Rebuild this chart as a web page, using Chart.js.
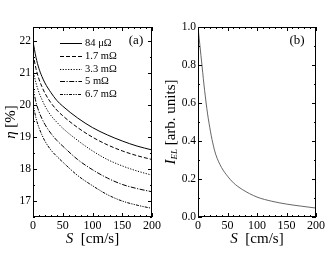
<!DOCTYPE html>
<html>
<head>
<meta charset="utf-8">
<script src="https://cdn.jsdelivr.net/npm/chart.js@4.4.0/dist/chart.umd.min.js"></script>
<style>
    body { margin: 0; background: #fff; }
    .wrap { position: absolute; top: 0; height: 255px; }
</style>
</head>
<body>
<div class="wrap" style="left:0;width:165px"><canvas id="chartA"></canvas></div>
<div class="wrap" style="left:158px;width:172px"><canvas id="chartB"></canvas></div>
<script>
// Data
var sVals = [0, 5, 10, 15, 20, 30, 40, 50, 75, 100, 125, 150, 175, 200];
var eta84u = [22.0, 21.5, 21.15, 20.9, 20.7, 20.4, 20.15, 19.97, 19.6, 19.3, 19.07, 18.88, 18.72, 18.6];
var eta1p7 = [21.6, 21.15, 20.82, 20.58, 20.38, 20.08, 19.85, 19.67, 19.3, 19.0, 18.76, 18.57, 18.42, 18.3];
var eta3p3 = [21.1, 20.7, 20.4, 20.18, 19.98, 19.68, 19.47, 19.28, 18.9, 18.57, 18.3, 18.1, 17.94, 17.81];
var eta5 = [20.55, 20.1, 19.8, 19.58, 19.4, 19.12, 18.9, 18.72, 18.3, 17.98, 17.72, 17.52, 17.39, 17.29];
var eta6p7 = [20.05, 19.6, 19.3, 19.07, 18.88, 18.6, 18.4, 18.22, 17.8, 17.48, 17.2, 17.0, 16.87, 16.77];
var seriesNames = ["84 \u03bc\u03a9", "1.7 m\u03a9", "3.3 m\u03a9", "5 m\u03a9", "6.7 m\u03a9"];

var sValsB = [0, 1, 2, 3, 5, 8, 10, 15, 20, 25, 30, 40, 50, 60, 75, 100, 125, 150, 175, 200];
var iEL = [1.0, 0.97, 0.94, 0.91, 0.85, 0.76, 0.7, 0.57, 0.47, 0.39, 0.33, 0.26, 0.215, 0.18, 0.145, 0.105, 0.083, 0.068, 0.057, 0.047];

var xTicks = [0, 50, 100, 150, 200];
var yTicksA = [17, 18, 19, 20, 21, 22];
var yTicksB = [0, 0.2, 0.4, 0.6, 0.8, 1.0];

var serif = "'Liberation Serif', 'DejaVu Serif', serif";

function pairs(xs, ys) {
    return xs.map(function(x, i) { return { x: x, y: ys[i] }; });
}

// Frame, inward ticks, titles and legend
function makeDeco(cfg) {
    return {
        id: "deco",
        afterDraw: function(chart) {
            var c = chart.ctx, a = chart.chartArea;
            var sx = chart.scales.x, sy = chart.scales.y;
            c.save();
            c.strokeStyle = "#000";
            c.lineWidth = 1;
            c.strokeRect(Math.round(a.left) + 0.5, Math.round(a.top) + 0.5,
                Math.round(a.right - a.left) - 1, Math.round(a.bottom - a.top) - 1);
            c.beginPath();
            // x ticks
            for (var v = sx.min; v <= sx.max + 1e-9; v += cfg.xMinor) {
                var px = Math.round(sx.getPixelForValue(v)) + 0.5;
                var len = Math.abs(v % cfg.xMajor) < 1e-6 ? 4 : 2;
                c.moveTo(px, a.bottom); c.lineTo(px, a.bottom - len);
                c.moveTo(px, a.top); c.lineTo(px, a.top + len);
            }
            // y ticks
            var start = Math.ceil(sy.min / cfg.yMinor - 1e-6) * cfg.yMinor;
            for (var w = start; w <= sy.max + 1e-9; w += cfg.yMinor) {
                var py = Math.round(sy.getPixelForValue(w)) + 0.5;
                var r = w / cfg.yMajor;
                var l2 = Math.abs(r - Math.round(r)) < 1e-6 ? 4 : 2;
                c.moveTo(a.left, py); c.lineTo(a.left + l2, py);
                c.moveTo(a.right, py); c.lineTo(a.right - l2, py);
            }
            c.stroke();

            c.fillStyle = "#000";
            c.textBaseline = "middle";
            // x title
            drawSpans(c, [["italic", 15, "S"], ["", 15, "  [cm/s]"]], (a.left + a.right) / 2, 239);
            // y title
            c.save();
            c.translate(cfg.yTitleX, (a.top + a.bottom) / 2);
            c.rotate(-Math.PI / 2);
            drawSpans(c, cfg.yTitle, 0, 0);
            c.restore();
            // panel label
            c.font = "13px " + serif;
            c.textAlign = "center";
            c.fillText(cfg.panel, cfg.panelX, 41);

            // legend
            if (cfg.legend) {
                chart.data.datasets.forEach(function(ds, i) {
                    var y = Math.round(43 + i * 12.8) + 0.5;
                    c.beginPath();
                    c.setLineDash(ds.borderDash || []);
                    c.lineWidth = ds.borderWidth;
                    c.moveTo(60, y); c.lineTo(82, y);
                    c.stroke();
                    c.setLineDash([]);
                    c.font = "10.5px " + serif;
                    c.textAlign = "left";
                    c.fillText(ds.label, 85, y);
                });
            }
            c.restore();
        }
    };
}

function drawSpans(c, spans, cx, cy) {
    var total = 0;
    spans.forEach(function(s) {
        c.font = s[0] + " " + s[1] + "px " + serif;
        total += c.measureText(s[2]).width;
    });
    var x = cx - total / 2;
    c.textAlign = "left";
    spans.forEach(function(s) {
        c.font = s[0] + " " + s[1] + "px " + serif;
        c.fillText(s[2], x, cy + (s[3] || 0));
        x += c.measureText(s[2]).width;
    });
}

function baseOptions(yMin, yMax, yTicks, yFmt, padRight, yWidth) {
    return {
        responsive: true,
        maintainAspectRatio: false,
        animation: false,
        layout: { padding: { left: 0, right: padRight, top: 27, bottom: 0 } },
        plugins: { legend: { display: false }, tooltip: { enabled: false } },
        elements: { point: { radius: 0 } },
        scales: {
            x: {
                type: "linear", min: 0, max: 200,
                grid: { display: false, drawTicks: false },
                border: { display: false },
                afterBuildTicks: function(s) { s.ticks = xTicks.map(function(v) { return { value: v }; }); },
                afterFit: function(s) { s.height = 38; },
                ticks: { padding: 2, color: "#000", maxRotation: 0, font: { family: serif, size: 12 } }
            },
            y: {
                type: "linear", min: yMin, max: yMax,
                grid: { display: false, drawTicks: false },
                border: { display: false },
                afterBuildTicks: function(s) { s.ticks = yTicks.map(function(v) { return { value: v }; }); },
                afterFit: function(s) { s.width = yWidth; },
                ticks: { padding: 2, color: "#000", font: { family: serif, size: 11.5 }, callback: yFmt }
            }
        }
    };
}

var dashes = [[], [4, 2], [1.2, 1.5], [5, 1.5, 1.2, 1.5], [3, 1.2, 1.2, 1.2, 1.2, 1.2]];
var etaSeries = [eta84u, eta1p7, eta3p3, eta5, eta6p7];

new Chart(document.getElementById("chartA"), {
    type: "line",
    data: {
        datasets: etaSeries.map(function(ys, i) {
            return {
                label: seriesNames[i],
                data: pairs(sVals, ys),
                borderColor: "#000",
                borderWidth: 1,
                borderDash: dashes[i],
                cubicInterpolationMode: "monotone",
                fill: false
            };
        })
    },
    options: baseOptions(16.5, 22.45, yTicksA, function(v) { return v; }, 13, 33),
    plugins: [makeDeco({
        xMinor: 10, xMajor: 50, yMinor: 0.5, yMajor: 1,
        yTitleX: 11,
        yTitle: [["italic", 15, "\u03b7"], ["", 15, " [%]"]],
        panel: "(a)", panelX: 136, legend: true
    })]
});

new Chart(document.getElementById("chartB"), {
    type: "line",
    data: {
        datasets: [{
            label: "I_EL",
            data: pairs(sValsB, iEL),
            borderColor: "#555",
            borderWidth: 0.9,
            cubicInterpolationMode: "monotone",
            fill: false
        }]
    },
    options: baseOptions(0, 1, yTicksB, function(v) { return v.toFixed(1); }, 14, 40),
    plugins: [makeDeco({
        xMinor: 10, xMajor: 50, yMinor: 0.1, yMajor: 0.2,
        yTitleX: 13,
        yTitle: [["italic", 15, "I"], ["italic", 9, "EL", 4], ["", 15, " [arb. units]"]],
        panel: "(b)", panelX: 139, legend: false
    })]
});
</script>
</body>
</html>
